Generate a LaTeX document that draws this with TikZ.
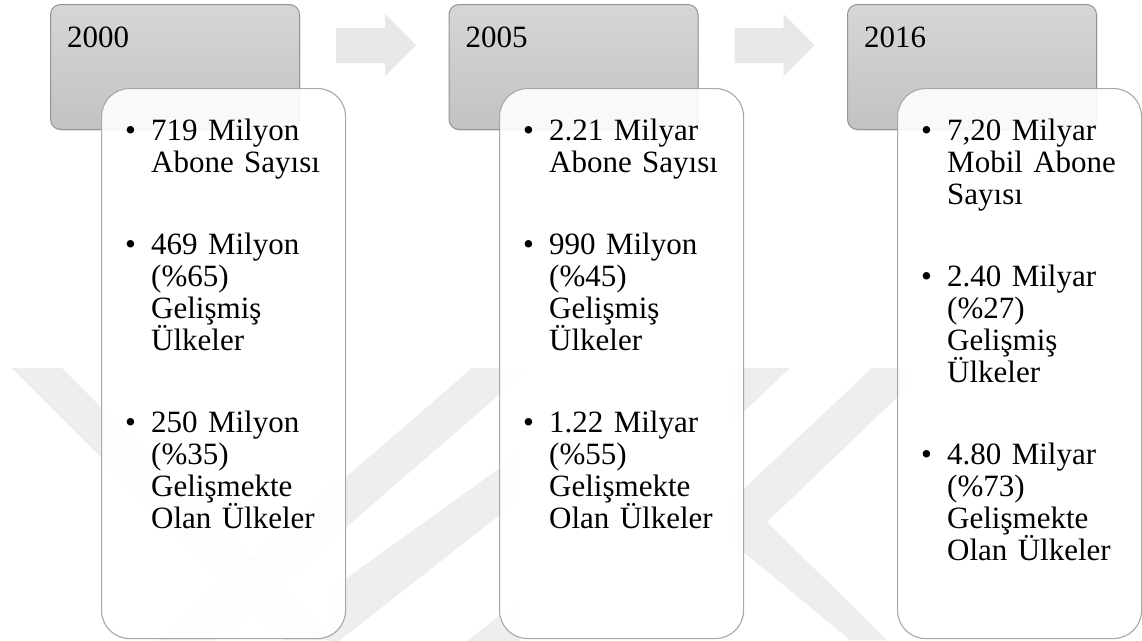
\documentclass[tikz,border=0pt]{standalone}
\usepackage{fontspec}
\setmainfont{Liberation Serif}
\usetikzlibrary{calc,shadows}

\definecolor{wmgray}{HTML}{EEEEEE}
\definecolor{arrowgray}{HTML}{E8E8E8}
\definecolor{hdtop}{HTML}{D6D6D6}
\definecolor{hdbot}{HTML}{C2C2C2}
\definecolor{hdline}{HTML}{939393}
\definecolor{cardline}{HTML}{A8A8A8}

\tikzset{
  yearbox/.style={draw=hdline, line width=1pt, rounded corners=10pt,
    top color=hdtop, bottom color=hdbot,
    drop shadow={opacity=0.18, shadow xshift=0.8pt, shadow yshift=-1.2pt},
    minimum width=249pt, minimum height=125pt, inner sep=0pt, anchor=north west},
  card/.style={draw=cardline, line width=1.1pt, rounded corners=28pt,
    fill=white, fill opacity=0.9, draw opacity=1,
    minimum width=244pt, minimum height=550pt, inner sep=0pt, anchor=north west},
  bigfont/.style={font=\fontsize{31}{32}\selectfont},
  yeartext/.style={bigfont, anchor=base west, inner sep=0pt},
  bulletmark/.style={bigfont, anchor=base west, inner sep=0pt},
  itemtext/.style={bigfont, anchor=base west, inner sep=0pt, text width=190pt, align=left},
  blockarrow/.style={fill=arrowgray},
  emblem/.style={fill=wmgray}
}

\begin{document}
\begin{tikzpicture}[x=1pt,y=-1pt]
\useasboundingbox[fill=white] (0,0) rectangle (1142,640);

% faint emblem in the background
\begin{scope}
  \clip (0,0) rectangle (1142,640);
  \fill[emblem] (12,368) -- (62,368) -- (334,640) -- (284,640) -- cycle;
  \fill[emblem] (472,368) -- (530,368) -- (216,640) -- (158,640) -- cycle;
  \fill[emblem] (520,453.5) -- (520,499) -- (330,648) -- (330,590) -- cycle;
  \fill[emblem] (520,600) -- (520,650) -- (455,650) -- cycle;
  \fill[emblem] (735,368) -- (790,368) -- (735,420) -- cycle;
  \fill[emblem] (872,368) -- (910,368) -- (910,385) -- (767,522) -- (887,640)
    -- (850,640) -- (735,545) -- (735,497) -- cycle;
\end{scope}

% year headers
\node[yearbox] (g1) at (50,4) {};
\node[yearbox] (g2) at (448.5,4) {};
\node[yearbox] (g3) at (847,4) {};

\node[yeartext] (y1) at ($(g1.north west)+(17,43)$) {2000};
\node[yeartext] (y2) at ($(g2.north west)+(17,43)$) {2005};
\node[yeartext] (y3) at ($(g3.north west)+(17,43)$) {2016};

% block arrows between the headers
\foreach \a/\b in {g1/a1, g2/a2}{
  \coordinate (\b) at (\a.north east);
  \fill[blockarrow] ($(\b)+(36,24)$) -- ($(\b)+(85,24)$) -- ($(\b)+(85,10)$)
    -- ($(\b)+(116,41)$) -- ($(\b)+(85,72)$) -- ($(\b)+(85,59)$)
    -- ($(\b)+(36,59)$) -- cycle;
}

% content cards
\node[card] (c1) at (101,88) {};
\node[card] (c2) at (499,88) {};
\node[card] (c3) at (897,88) {};

% card 1
\node[bulletmark] (c1b1) at ($(c1.north west)+(24,52)$) {•};
\node[itemtext]   (c1i1) at ($(c1.north west)+(50,52)$) {719 Milyon\\Abone Sayısı};
\node[bulletmark] (c1b2) at ($(c1.north west)+(24,166)$) {•};
\node[itemtext]   (c1i2) at ($(c1.north west)+(50,166)$) {469 Milyon\\(\%65)\\Gelişmiş\\Ülkeler};
\node[bulletmark] (c1b3) at ($(c1.north west)+(24,344)$) {•};
\node[itemtext]   (c1i3) at ($(c1.north west)+(50,344)$) {250 Milyon\\(\%35)\\Gelişmekte\\Olan Ülkeler};

% card 2
\node[bulletmark] (c2b1) at ($(c2.north west)+(24,52)$) {•};
\node[itemtext]   (c2i1) at ($(c2.north west)+(50,52)$) {2.21 Milyar\\Abone Sayısı};
\node[bulletmark] (c2b2) at ($(c2.north west)+(24,166)$) {•};
\node[itemtext]   (c2i2) at ($(c2.north west)+(50,166)$) {990 Milyon\\(\%45)\\Gelişmiş\\Ülkeler};
\node[bulletmark] (c2b3) at ($(c2.north west)+(24,344)$) {•};
\node[itemtext]   (c2i3) at ($(c2.north west)+(50,344)$) {1.22 Milyar\\(\%55)\\Gelişmekte\\Olan Ülkeler};

% card 3
\node[bulletmark] (c3b1) at ($(c3.north west)+(24,52)$) {•};
\node[itemtext]   (c3i1) at ($(c3.north west)+(50,52)$) {7,20 Milyar\\Mobil Abone\\Sayısı};
\node[bulletmark] (c3b2) at ($(c3.north west)+(24,198)$) {•};
\node[itemtext]   (c3i2) at ($(c3.north west)+(50,198)$) {2.40 Milyar\\(\%27)\\Gelişmiş\\Ülkeler};
\node[bulletmark] (c3b3) at ($(c3.north west)+(24,376)$) {•};
\node[itemtext]   (c3i3) at ($(c3.north west)+(50,376)$) {4.80 Milyar\\(\%73)\\Gelişmekte\\Olan Ülkeler};
\end{tikzpicture}
\end{document}
